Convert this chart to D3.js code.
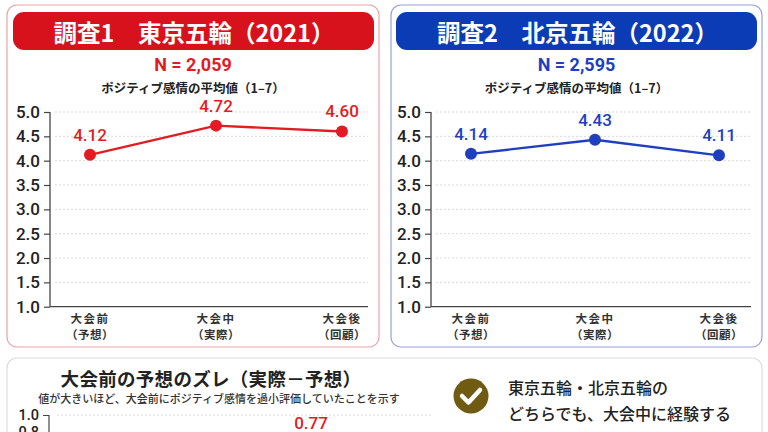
<!DOCTYPE html>
<html>
<head>
<meta charset="utf-8">
<script src="https://cdn.jsdelivr.net/npm/d3@7"></script>
<style>
  body { margin: 0; background: #fff; }
  svg { display: block; }
  .jp { font-family: "Noto Sans CJK JP", "Noto Sans", sans-serif; }
  .num { font-family: Roboto, "Liberation Sans", sans-serif; }
</style>
</head>
<body>
<svg id="chart" width="768" height="432"></svg>
<script>
// データ
var categories = ["大会前", "大会中", "大会後"];
var subLabels = ["（予想）", "（実際）", "（回顧）"];
var tokyoValues = [4.12, 4.72, 4.60];
var beijingValues = [4.14, 4.43, 4.11];
var yTicks = [1.0, 1.5, 2.0, 2.5, 3.0, 3.5, 4.0, 4.5, 5.0];
var gapCategories = ["東京五輪"];
var gapValues = [0.77];
var gapTicks = [0.8, 1.0];
var noteLines = ["東京五輪・北京五輪の", "どちらでも、大会中に経験する", "ポジティブ感情を低く見積もっていた"];

var svg = d3.select("#chart");

var panels = [
  { box: [7, 5, 372, 342], header: [13, 12, 361, 38], border: "#e9a3a6", color: "#d8121c", line: "#e31b23",
    title: "調査1　東京五輪（2021）", n: "N = 2,059", values: tokyoValues, axisX: 50, right: 368, pts: [90, 342] },
  { box: [391, 5, 371, 342], header: [396, 12, 361, 38], border: "#97a0dc", color: "#0b3cb5", line: "#1e40c0",
    title: "調査2　北京五輪（2022）", n: "N = 2,595", values: beijingValues, axisX: 431, right: 751, pts: [471, 719] }
];

var y = d3.scaleLinear().domain([1, 5]).range([306.7, 112]);

panels.forEach(function(p) {
  var g = svg.append("g");
  var cx = p.box[0] + p.box[2] / 2;

  g.append("rect").attr("x", p.box[0]).attr("y", p.box[1]).attr("width", p.box[2]).attr("height", p.box[3])
    .attr("rx", 10).attr("fill", "#fff").attr("stroke", p.border).attr("stroke-width", 1.2);
  g.append("rect").attr("x", p.header[0]).attr("y", p.header[1]).attr("width", p.header[2]).attr("height", p.header[3])
    .attr("rx", 11).attr("fill", p.color);
  g.append("text").attr("class", "jp").attr("x", cx + 1).attr("y", 32).attr("text-anchor", "middle")
    .attr("dominant-baseline", "central").attr("fill", "#fff").attr("font-size", 23.5).attr("font-weight", 700)
    .text(p.title);
  g.append("text").attr("class", "num").attr("x", cx).attr("y", 64).attr("text-anchor", "middle")
    .attr("dominant-baseline", "central").attr("fill", p.line).attr("font-size", 18).attr("font-weight", 700)
    .text(p.n);
  g.append("text").attr("class", "jp").attr("x", cx).attr("y", 87).attr("text-anchor", "middle")
    .attr("dominant-baseline", "central").attr("fill", "#222").attr("font-size", 12.5).attr("font-weight", 700)
    .text("ポジティブ感情の平均値（1–7）");

  var x = d3.scalePoint().domain(categories).range(p.pts);

  // グリッド
  g.selectAll(".grid").data(yTicks.slice(1)).enter().append("line")
    .attr("x1", p.axisX + 5).attr("x2", p.right)
    .attr("y1", function(d) { return y(d); }).attr("y2", function(d) { return y(d); })
    .attr("stroke", "#d9d9d9").attr("stroke-width", 1).attr("stroke-dasharray", "2,2");

  var axis = g.append("g").attr("transform", "translate(" + p.axisX + ",0)")
    .call(d3.axisLeft(y).tickValues(yTicks).tickFormat(d3.format(".1f")).tickSize(6).tickPadding(4));
  axis.select(".domain").attr("stroke", "#444").attr("stroke-width", 1.3).attr("d", "M0," + y(5) + "V" + y(1));
  axis.selectAll(".tick line").attr("stroke", "#444").attr("stroke-width", 1.2);
  axis.selectAll(".tick text").attr("class", "num").attr("font-size", 17).attr("font-weight", 500).attr("fill", "#222");

  g.append("line").attr("x1", p.axisX).attr("x2", p.right).attr("y1", y(1)).attr("y2", y(1))
    .attr("stroke", "#444").attr("stroke-width", 1.3);

  // カテゴリ
  g.selectAll(".cat").data(categories).enter().append("text").attr("class", "jp")
    .attr("x", function(d) { return x(d); }).attr("y", 317.5).attr("text-anchor", "middle")
    .attr("dominant-baseline", "central").attr("font-size", 11.5).attr("font-weight", 700).attr("fill", "#333")
    .attr("letter-spacing", 1.5).text(function(d) { return d; });
  g.selectAll(".sub").data(subLabels).enter().append("text").attr("class", "jp")
    .attr("x", function(d, i) { return x(categories[i]); }).attr("y", 333.5).attr("text-anchor", "middle")
    .attr("dominant-baseline", "central").attr("font-size", 11.5).attr("font-weight", 700).attr("fill", "#333")
    .attr("letter-spacing", 0.5).text(function(d) { return d; });

  var line = d3.line().x(function(d, i) { return x(categories[i]); }).y(function(d) { return y(d); });
  g.append("path").datum(p.values).attr("d", line).attr("fill", "none").attr("stroke", p.line).attr("stroke-width", 2.4);
  g.selectAll(".pt").data(p.values).enter().append("circle")
    .attr("cx", function(d, i) { return x(categories[i]); }).attr("cy", function(d) { return y(d); })
    .attr("r", 6).attr("fill", p.line);
  g.selectAll(".val").data(p.values).enter().append("text").attr("class", "num")
    .attr("x", function(d, i) { return x(categories[i]); }).attr("y", function(d) { return y(d) - 14; })
    .attr("text-anchor", "middle").attr("font-size", 17).attr("font-weight", 500).attr("fill", p.line)
    .text(function(d) { return d.toFixed(2); });
});

// 下段パネル
var bottom = svg.append("g");
bottom.append("rect").attr("x", 7).attr("y", 358).attr("width", 755).attr("height", 110).attr("rx", 10)
  .attr("fill", "#fff").attr("stroke", "#dcdcdc").attr("stroke-width", 1.2);
bottom.append("text").attr("class", "jp").attr("x", 211).attr("y", 378).attr("text-anchor", "middle")
  .attr("dominant-baseline", "central").attr("font-size", 18.5).attr("font-weight", 700).attr("fill", "#222")
  .attr("letter-spacing", 0.3).text("大会前の予想のズレ（実際－予想）");
bottom.append("text").attr("class", "jp").attr("x", 219).attr("y", 398).attr("text-anchor", "middle")
  .attr("dominant-baseline", "central").attr("font-size", 11).attr("font-weight", 500).attr("fill", "#333")
  .text("値が大きいほど、大会前にポジティブ感情を過小評価していたことを示す");

var gy = d3.scaleLinear().domain([0, 1]).range([500, 415]);
var gx = d3.scaleBand().domain(gapCategories).range([268, 354]).padding(0.2);

bottom.selectAll(".ggrid").data([1.0]).enter().append("line")
  .attr("x1", 57).attr("x2", 432).attr("y1", function(d) { return gy(d); }).attr("y2", function(d) { return gy(d); })
  .attr("stroke", "#d9d9d9").attr("stroke-dasharray", "2,2");

var gAxis = bottom.append("g").attr("transform", "translate(49,0)")
  .call(d3.axisLeft(gy).tickValues(gapTicks).tickFormat(d3.format(".1f")).tickSize(6).tickPadding(4));
gAxis.select(".domain").attr("stroke", "#444").attr("stroke-width", 1.2).attr("d", "M0," + gy(1) + "V" + gy(0));
gAxis.selectAll(".tick line").attr("stroke", "#444");
gAxis.selectAll(".tick text").attr("class", "num").attr("font-size", 14.5).attr("font-weight", 500).attr("fill", "#222");

bottom.selectAll(".bar").data(gapValues).enter().append("rect")
  .attr("x", function(d, i) { return gx(gapCategories[i]); }).attr("width", gx.bandwidth())
  .attr("y", function(d) { return gy(d); }).attr("height", function(d) { return gy(0) - gy(d); })
  .attr("fill", "#e31b23");
bottom.selectAll(".barval").data(gapValues).enter().append("text").attr("class", "num")
  .attr("x", function(d, i) { return gx(gapCategories[i]) + gx.bandwidth() / 2; })
  .attr("y", function(d) { return gy(d) - 6; }).attr("text-anchor", "middle")
  .attr("font-size", 17).attr("font-weight", 500).attr("fill", "#e31b23")
  .text(function(d) { return d.toFixed(2); });

// チェックアイコン
bottom.append("circle").attr("cx", 471).attr("cy", 396).attr("r", 17.5).attr("fill", "#6f5b12");
bottom.append("path").attr("d", "M462,396 L468.5,402.5 L480,390").attr("fill", "none")
  .attr("stroke", "#fff").attr("stroke-width", 4.5).attr("stroke-linecap", "round").attr("stroke-linejoin", "round");

bottom.selectAll(".note").data(noteLines).enter().append("text").attr("class", "jp")
  .attr("x", 508).attr("y", function(d, i) { return 387 + i * 26; })
  .attr("dominant-baseline", "central").attr("font-size", 16).attr("font-weight", 500).attr("fill", "#222")
  .text(function(d) { return d; });
</script>
</body>
</html>
